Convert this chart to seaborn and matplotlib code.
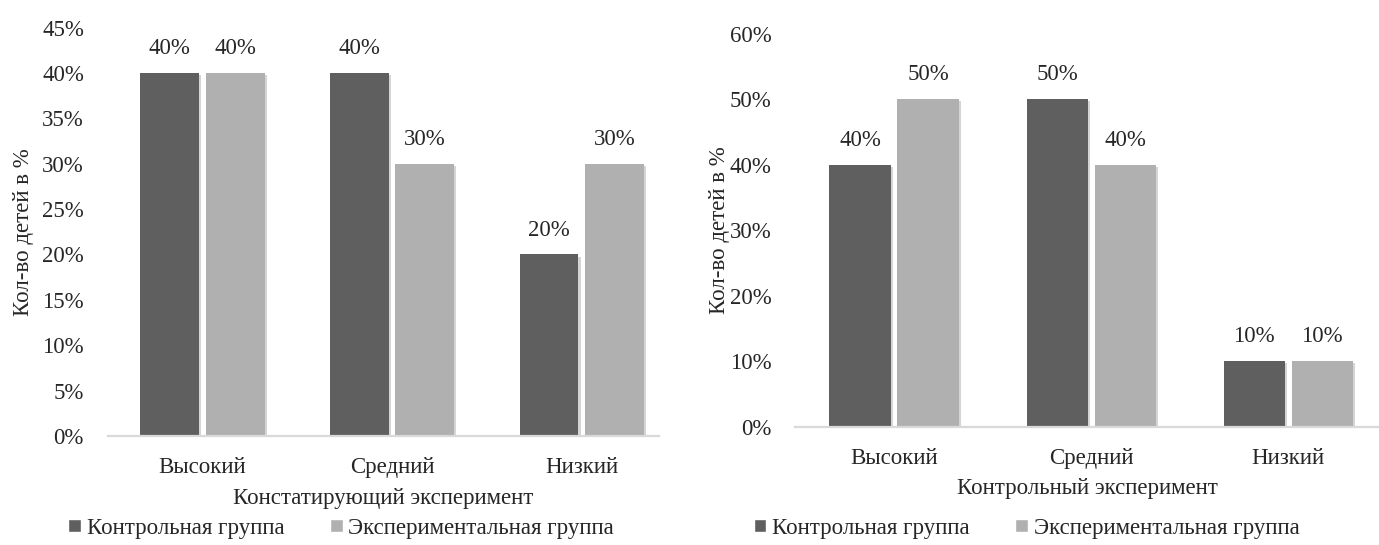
import pandas as pd
import matplotlib.pyplot as plt
import matplotlib.patheffects as pe
from matplotlib.patches import Patch
import seaborn as sns

# Data
levels = ['Высокий', 'Средний', 'Низкий']
groups = ['Контрольная группа', 'Экспериментальная группа']
stating_control = [0.40, 0.40, 0.20]
stating_experimental = [0.40, 0.30, 0.30]
control_control = [0.40, 0.50, 0.10]
control_experimental = [0.50, 0.40, 0.10]

left_title = 'Констатирующий эксперимент'
right_title = 'Контрольный эксперимент'
y_label = 'Кол-во детей в %'

DARK = '#5f5f5f'
LIGHT = '#b0b0b0'
AXIS = '#d9d9d9'
FS = 16.5


def make_frame(control, experimental):
    rows = []
    for lvl, c, e in zip(levels, control, experimental):
        rows.append({'level': lvl, 'group': groups[0], 'value': c})
        rows.append({'level': lvl, 'group': groups[1], 'value': e})
    return pd.DataFrame(rows)


def draw_panel(ax, df, title, ymax, step, xmax):
    sns.barplot(data=df, x='level', y='value', hue='group', order=levels,
                hue_order=groups, palette=[DARK, LIGHT], width=0.69, gap=0.1,
                saturation=1, legend=False, ax=ax)
    shadow = [pe.SimplePatchShadow(offset=(1.5, -1.5), shadow_rgbFace='#888888', alpha=0.35),
              pe.Normal()]
    for bar in ax.patches:
        bar.set_path_effects(shadow)
        bar.set_edgecolor('none')
    for cont in ax.containers:
        ax.bar_label(cont, labels=[f'{v * 100:.0f}%' for v in cont.datavalues],
                     padding=10, fontsize=FS)

    ax.set_ylim(0, ymax)
    ax.set_xlim(-0.5, xmax)
    ticks = [i * step for i in range(int(round(ymax / step)) + 1)]
    ax.set_yticks(ticks)
    ax.set_yticklabels([f'{t * 100:.0f}%' for t in ticks])
    ax.tick_params(axis='y', length=0, pad=17, labelsize=FS)
    ax.tick_params(axis='x', length=0, pad=15, labelsize=FS)
    for side in ['top', 'right', 'left']:
        ax.spines[side].set_visible(False)
    ax.spines['bottom'].set_color(AXIS)
    ax.spines['bottom'].set_linewidth(1.6)
    ax.set_xlabel(title, fontsize=FS, labelpad=7)
    ax.set_ylabel(y_label, fontsize=FS)
    ax.grid(False)


sns.set_style('white')
plt.rcParams['font.family'] = ['Liberation Serif', 'DejaVu Serif']

fig = plt.figure(figsize=(13.79, 5.45), dpi=100)
ax1 = fig.add_axes([0.078, 0.200, 0.400, 0.7495])
ax2 = fig.add_axes([0.5768, 0.217, 0.4232, 0.7215])

draw_panel(ax1, make_frame(stating_control, stating_experimental), left_title, 0.45, 0.05, 2.408)
draw_panel(ax2, make_frame(control_control, control_experimental), right_title, 0.60, 0.10, 2.46)

ax1.yaxis.set_label_coords(-0.134, 0.5)
ax2.yaxis.set_label_coords(-0.112, 0.5)

handles = [Patch(facecolor=DARK), Patch(facecolor=LIGHT)]
for x0 in [0.0495, 0.5465]:
    fig.legend(handles, groups, loc='center left', bbox_to_anchor=(x0, 0.031), ncol=2,
               frameon=False, fontsize=FS, handlelength=0.55, handleheight=0.55,
               handletextpad=0.25, columnspacing=2.0, borderpad=0, borderaxespad=0)

fig.savefig('out.png', dpi=100)
